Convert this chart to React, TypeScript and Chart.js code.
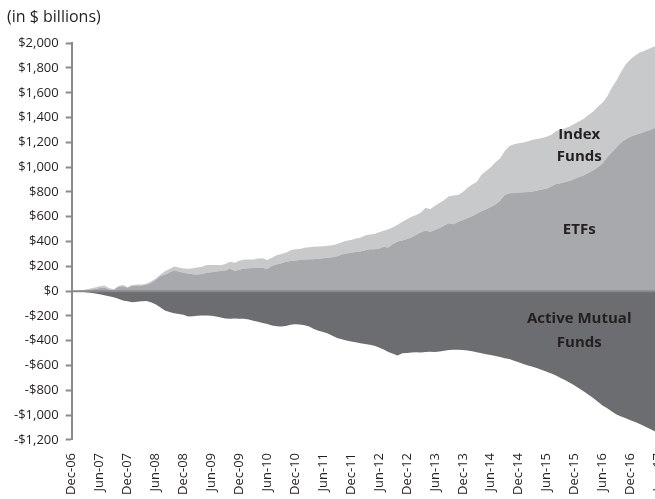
import React, { useEffect, useRef } from "react";
import { Chart, registerables } from "chart.js";

Chart.register(...registerables);

// Monthly observations from Dec-06 through Jun-17 (127 months)
const START_MONTH = 11; // December
const START_YEAR = 2006;
const MONTH_NAMES = ["Jan", "Feb", "Mar", "Apr", "May", "Jun", "Jul", "Aug", "Sep", "Oct", "Nov", "Dec"];

// Cumulative flows, $ billions
const ETFS = [
  0, 2, 5, 8, 14, 18, 25, 30, 15, 6, 36, 40, 27, 44, 46, 46, 52, 66, 90, 120,
  133, 150, 168, 158, 149, 142, 136, 135, 138, 149, 152, 158, 163, 165, 184, 163, 172, 184, 185, 188,
  189, 190, 180, 205, 215, 225, 238, 244, 247, 252, 256, 258, 258, 262, 266, 270, 274, 282, 295, 305,
  311, 316, 320, 330, 338, 339, 342, 358, 352, 380, 400, 408, 420, 435, 455, 475, 490, 480, 493, 510,
  530, 548, 540, 560, 575, 590, 605, 625, 645, 660, 680, 700, 730, 775, 790, 792, 795, 798, 800, 805,
  812, 820, 828, 845, 865, 870, 880, 890, 905, 920, 935, 955, 975, 1000, 1030, 1080, 1120, 1160, 1200, 1225,
  1245, 1260, 1272, 1285, 1298, 1312, 1328,
];

const INDEX_FUNDS = [
  0, 1, 3, 6, 8, 12, 15, 15, 10, 10, 6, 9, 6, 6, 8, 8, 8, 12, 10, 12,
  27, 30, 32, 34, 35, 39, 50, 57, 60, 62, 60, 53, 46, 55, 54, 67, 73, 71, 71, 68,
  75, 76, 72, 65, 75, 75, 72, 86, 92, 88, 94, 97, 100, 98, 96, 96, 96, 98, 100, 102,
  101, 109, 112, 120, 120, 123, 133, 130, 148, 135, 135, 152, 160, 165, 160, 160, 182, 180, 197, 202,
  205, 217, 232, 215, 225, 245, 255, 255, 295, 310, 320, 340, 340, 355, 380, 393, 398, 402, 410, 417,
  416, 415, 417, 417, 425, 435, 435, 440, 445, 450, 455, 465, 475, 490, 490, 490, 520, 540, 570, 605,
  625, 640, 653, 655, 657, 660, 662,
];

const ACTIVE_FUNDS = [
  0, -1, -3, -8, -12, -18, -25, -32, -40, -49, -60, -75, -82, -89, -86, -82, -80, -90, -105, -130,
  -155, -168, -178, -183, -190, -205, -202, -198, -196, -197, -198, -205, -212, -220, -222, -220, -222, -222, -228, -238,
  -246, -256, -265, -276, -282, -285, -280, -270, -266, -268, -274, -285, -305, -318, -330, -342, -360, -378, -388, -398,
  -405, -412, -420, -425, -432, -440, -455, -470, -490, -505, -518, -500, -498, -495, -493, -495, -490, -488, -490, -486,
  -480, -475, -472, -472, -474, -478, -485, -493, -500, -508, -515, -522, -530, -540, -547, -560, -573, -588, -600, -610,
  -622, -635, -650, -664, -680, -700, -718, -738, -760, -785, -808, -835, -862, -892, -921, -945, -970, -995, -1010, -1025,
  -1040, -1055, -1071, -1090, -1108, -1125, -1145,
];

const Y_MIN = -1200;
const Y_MAX = 2000;
const Y_STEP = 200;
const TICK_EVERY = 6; // semi-annual tick labels

const COLORS = {
  etf: "#a8a9ac",
  index: "#c8c9cb",
  active: "#6c6d70",
  axis: "#8a8a8c",
  zero: "#88898c",
  text: "#231f20",
};

// Annotation labels: [lines, month index, value at block centre, line height]
const ANNOTATIONS: { lines: string[]; at: number; value: number; lh: number }[] = [
  { lines: ["Index", "Funds"], at: 109, value: 1171, lh: 22 },
  { lines: ["ETFs"], at: 109, value: 496, lh: 22 },
  { lines: ["Active Mutual", "Funds"], at: 109, value: -317, lh: 24 },
];

const FONT = "'Open Sans', 'Noto Sans', sans-serif";

function monthLabels(n: number): string[] {
  const out: string[] = [];
  for (let k = 0; k < n; k++) {
    const m = (START_MONTH + k) % 12;
    const y = START_YEAR + Math.floor((START_MONTH + k) / 12);
    out.push(`${MONTH_NAMES[m]}-${String(y % 100).padStart(2, "0")}`);
  }
  return out;
}

const LABELS = monthLabels(ETFS.length);

function fmt(v: number): string {
  const s = "$" + Math.abs(v).toLocaleString("en-US");
  return v < 0 ? "-" + s : s;
}

const overlayPlugin = {
  id: "overlay",
  afterDatasetsDraw(chart: any) {
    const { ctx, chartArea, scales } = chart;
    const x = scales.x;
    const y = scales.y;
    ctx.save();
    // zero line
    const y0 = y.getPixelForValue(0);
    ctx.strokeStyle = COLORS.zero;
    ctx.lineWidth = 2;
    ctx.beginPath();
    ctx.moveTo(chartArea.left, y0);
    ctx.lineTo(chartArea.right, y0);
    ctx.stroke();
    // labels
    ctx.fillStyle = COLORS.text;
    ctx.font = `bold 15px ${FONT}`;
    ctx.textAlign = "center";
    ctx.textBaseline = "middle";
    for (const a of ANNOTATIONS) {
      const cx = x.getPixelForValue(a.at);
      const cy = y.getPixelForValue(a.value);
      const n = a.lines.length;
      a.lines.forEach((line, i) => {
        ctx.fillText(line, cx, cy + (i - (n - 1) / 2) * a.lh);
      });
    }
    ctx.restore();
  },
};

export default function App() {
  const ref = useRef<HTMLCanvasElement | null>(null);

  useEffect(() => {
    if (!ref.current) return;
    const chart = new Chart(ref.current, {
      type: "line",
      data: {
        labels: LABELS,
        datasets: [
          {
            label: "ETFs",
            data: ETFS,
            backgroundColor: COLORS.etf,
            borderWidth: 0,
            pointRadius: 0,
            fill: "origin",
          },
          {
            label: "Index Funds",
            data: INDEX_FUNDS,
            backgroundColor: COLORS.index,
            borderWidth: 0,
            pointRadius: 0,
            fill: "-1",
          },
          {
            label: "Active Mutual Funds",
            data: ACTIVE_FUNDS,
            backgroundColor: COLORS.active,
            borderWidth: 0,
            pointRadius: 0,
            fill: "origin",
          },
        ],
      },
      options: {
        animation: false,
        responsive: false,
        devicePixelRatio: 1,
        layout: { padding: { left: 7, right: 0, top: 0, bottom: -9 } },
        plugins: {
          legend: { display: false },
          tooltip: { enabled: false },
          title: {
            display: true,
            text: "(in $ billions)",
            align: "start",
            color: COLORS.text,
            font: { family: FONT, size: 16, weight: "normal" },
            padding: { top: 8, bottom: 16 },
          },
        },
        scales: {
          x: {
            stacked: true,
            offset: false,
            grid: { display: false, drawTicks: false },
            border: { display: false },
            ticks: {
              autoSkip: false,
              maxRotation: 90,
              minRotation: 90,
              padding: 13,
              color: COLORS.text,
              font: { family: FONT, size: 13 },
              callback: (_v: any, i: number) => (i % TICK_EVERY === 0 ? LABELS[i] : null),
            },
          },
          y: {
            stacked: true,
            min: Y_MIN,
            max: Y_MAX,
            grid: {
              drawOnChartArea: false,
              drawTicks: true,
              tickLength: 6,
              tickColor: COLORS.axis,
              tickWidth: 2,
            },
            border: { display: true, color: COLORS.axis, width: 2 },
            ticks: {
              stepSize: Y_STEP,
              padding: 7,
              color: COLORS.text,
              font: { family: FONT, size: 13 },
              callback: (v: any) => fmt(Number(v)),
            },
          },
        },
      },
      plugins: [overlayPlugin],
    });
    return () => chart.destroy();
  }, []);

  return (
    <div
      style={{
        position: "fixed",
        left: 0,
        top: 0,
        width: 655,
        height: 499,
        overflow: "hidden",
        background: "#ffffff",
      }}
    >
      <canvas ref={ref} width={687} height={499} style={{ display: "block" }} />
    </div>
  );
}
